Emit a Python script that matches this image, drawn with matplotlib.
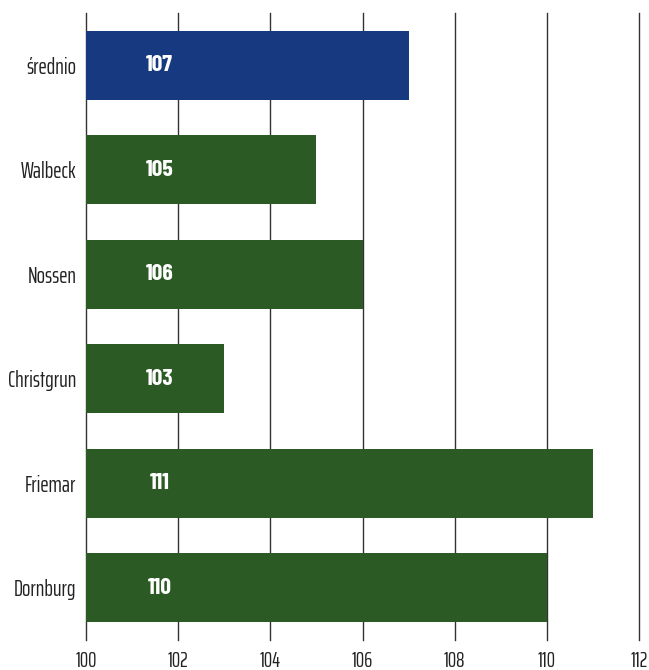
import matplotlib.pyplot as plt

# values per site, top to bottom
sites = ['średnio', 'Walbeck', 'Nossen', 'Christgrun', 'Friemar', 'Dornburg']
values = [107, 105, 106, 103, 111, 110]
bar_colors = ['#16397f', '#2b5a24', '#2b5a24', '#2b5a24', '#2b5a24', '#2b5a24']
x_ticks = [100, 102, 104, 106, 108, 110, 112]

plt.rcParams['font.family'] = ['Saira ExtraCondensed', 'DejaVu Sans']

fig = plt.figure(figsize=(6.49, 6.70), dpi=100)
ax = fig.add_axes([86 / 649, 1 - 640 / 670, (639 - 86) / 649, (640 - 13) / 670])

y = list(range(len(sites)))
ax.barh(y, [v - 100 for v in values], left=100, height=0.66,
        color=bar_colors, zorder=2)

# value labels sit near the left end of every bar
for yi, v in zip(y, values):
    ax.text(101.6, yi, str(v), ha='center', va='center', color='white',
            fontsize=17, fontweight='bold', zorder=3,
            family=['Barlow Condensed', 'DejaVu Sans'])

ax.set_xlim(100, 112)
ax.set_ylim(len(sites) - 0.5, -0.5)
ax.set_xticks(x_ticks)
ax.set_yticks(y)
ax.set_yticklabels(sites)
ax.grid(axis='x', color='#333333', linewidth=1, zorder=0)
ax.grid(axis='y', visible=False)
for line in ax.get_xgridlines():
    line.set_clip_on(False)
for s in ax.spines.values():
    s.set_visible(False)
ax.tick_params(axis='both', length=0, colors='#222222')
ax.tick_params(axis='x', pad=8, labelsize=15)
ax.tick_params(axis='y', pad=7, labelsize=16)

fig.savefig('out.png', dpi=100)
